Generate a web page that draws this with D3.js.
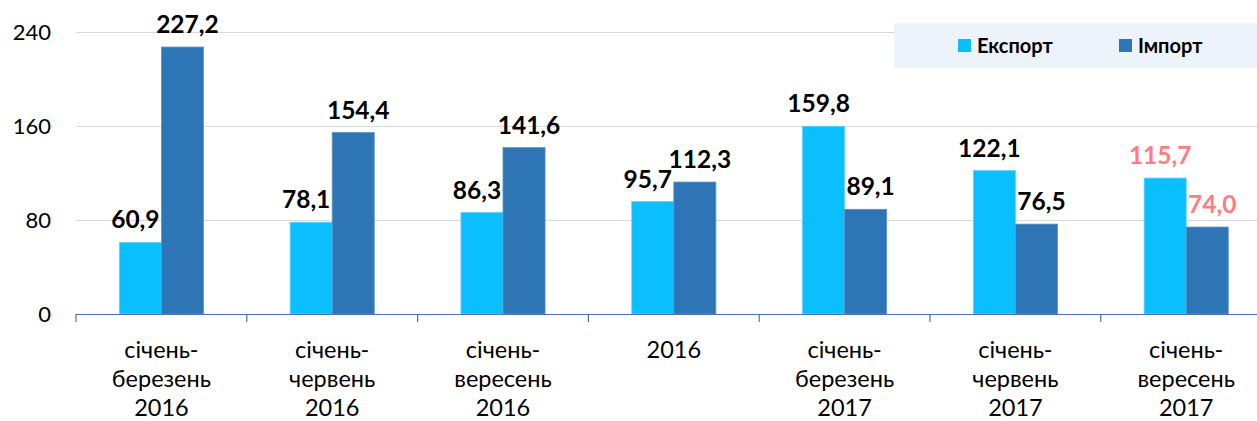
<!DOCTYPE html>
<html><head><meta charset="utf-8">
<script src="https://cdn.jsdelivr.net/npm/d3@7"></script>
<style>body{margin:0;background:#fff;} svg{display:block;font-family:Lato,'Noto Sans',sans-serif;}</style>
</head><body>
<svg id="c" width="1257" height="421"></svg>
<script>
const categories = [["січень-","березень","2016"],["січень-","червень","2016"],["січень-","вересень","2016"],["2016"],["січень-","березень","2017"],["січень-","червень","2017"],["січень-","вересень","2017"]];
const exportVals = [60.9,78.1,86.3,95.7,159.8,122.1,115.7];
const importVals = [227.2,154.4,141.6,112.3,89.1,76.5,74.0];
const labelColors = ["#000","#000","#000","#000","#000","#000","#FF7C80"];
const yTicks = [0,80,160,240];
const seriesNames = ["Експорт","Імпорт"];
const seriesColors = ["#0BBFFF","#2E75B6"];

(function(){
const svg = d3.select("#c");
const left = 76, bandW = 170.8, plotTop = 32, plotBottom = 314;
const idx = d3.range(categories.length);
const x = d3.scaleBand().domain(idx).range([left, left + bandW*categories.length]).paddingInner(0).paddingOuter(0);
const xs = d3.scaleBand().domain([0,1]).range([0, x.bandwidth()]).paddingInner(0).paddingOuter(1.03);
const y = d3.scaleLinear().domain([0,240]).range([plotBottom, plotTop]);

// grid
svg.append("g").selectAll("line").data(yTicks.filter(d=>d>0)).join("line")
  .attr("x1", left).attr("x2", 1257).attr("y1", d=>y(d)+0.5).attr("y2", d=>y(d)+0.5)
  .attr("stroke", "#D9D9D9").attr("stroke-width", 1);

// y labels
svg.append("g").selectAll("text").data(yTicks).join("text")
  .attr("x", 51).attr("y", d=>y(d)).attr("dy","0.36em").attr("text-anchor","end")
  .attr("font-size", 22).attr("fill","#000").text(d=>d);

// bars
const series = [exportVals, importVals];
series.forEach((vals, s) => {
  svg.append("g").selectAll("rect").data(idx).join("rect")
    .attr("x", i => x(i) + xs(s)).attr("width", xs.bandwidth())
    .attr("y", i => y(vals[i])).attr("height", i => plotBottom - y(vals[i]))
    .attr("fill", seriesColors[s])
    .attr("stroke", s===0 ? "#5FD3FF" : "#5B93C9").attr("stroke-width", 0.8);
  svg.append("g").selectAll("text").data(idx).join("text")
    .attr("x", i => x(i) + xs(s) + xs.bandwidth()/2 + (s===0?-5:5))
    .attr("y", i => y(vals[i]) - 14)
    .attr("text-anchor","middle").attr("font-size", 24.5).attr("font-weight","bold")
    .attr("fill", i => labelColors[i])
    .text(i => d3.format(".1f")(vals[i]).replace(".", ","));
});

// x axis
const ax = svg.append("g");
ax.append("line").attr("x1", left).attr("x2", 1257).attr("y1", plotBottom+0.5).attr("y2", plotBottom+0.5)
  .attr("stroke","#4A72A8").attr("stroke-width",1.2);
ax.selectAll("line.t").data(d3.range(categories.length+1)).join("line").attr("class","t")
  .attr("x1", i => left + i*bandW).attr("x2", i => left + i*bandW)
  .attr("y1", plotBottom).attr("y2", plotBottom+8).attr("stroke","#4A72A8").attr("stroke-width",1.2);
const lab = ax.selectAll("text").data(idx).join("text")
  .attr("text-anchor","middle").attr("font-size", 23.5).attr("fill","#000");
lab.each(function(i){
  const t = d3.select(this);
  categories[i].forEach((line, k) => {
    t.append("tspan").attr("x", x(i) + x.bandwidth()/2).attr("y", 358 + k*29).text(line);
  });
});

// legend
const lg = svg.append("g");
lg.append("rect").attr("x", 894).attr("y", 23).attr("width", 363).attr("height", 45).attr("fill","#EDF3FA");
const lx = [958, 1119];
seriesNames.forEach((n, s) => {
  lg.append("rect").attr("x", lx[s]).attr("y", 39).attr("width", 13).attr("height", 13).attr("fill", seriesColors[s]);
  lg.append("text").attr("x", lx[s]+19).attr("y", 52.5).attr("font-size", 20).attr("font-weight","bold")
    .attr("fill","#000").text(n);
});
})();
</script>
</body></html>
